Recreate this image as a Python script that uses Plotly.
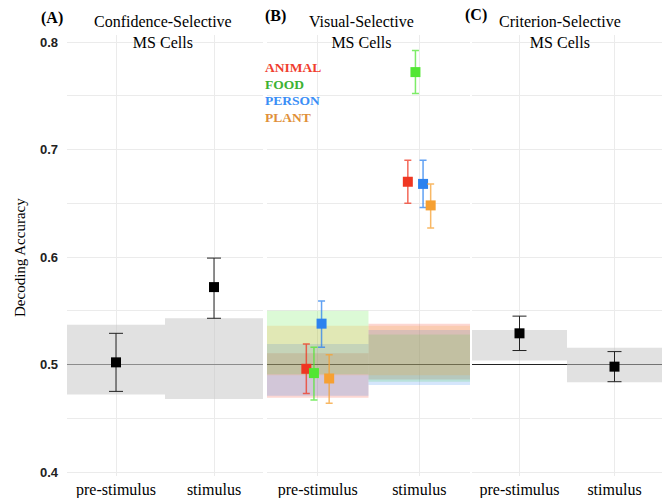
import plotly.graph_objects as go

conditions = ["pre-stimulus", "stimulus"]
y_ticks = [0.4, 0.5, 0.6, 0.7, 0.8]
y_minor = [0.45, 0.55, 0.65, 0.75]

# Panel A: Confidence-Selective
conf_mean = [0.502, 0.572]
conf_lo = [0.475, 0.543]
conf_hi = [0.529, 0.599]
conf_null_lo = [0.472, 0.468]
conf_null_hi = [0.537, 0.543]

# Panel B: Visual-Selective, by category
categories = ["ANIMAL", "FOOD", "PERSON", "PLANT"]
animal_mean = [0.496, 0.670]
animal_lo = [0.473, 0.650]
animal_hi = [0.519, 0.690]
food_mean = [0.492, 0.772]
food_lo = [0.467, 0.752]
food_hi = [0.516, 0.792]
person_mean = [0.538, 0.668]
person_lo = [0.516, 0.646]
person_hi = [0.559, 0.690]
plant_mean = [0.487, 0.648]
plant_lo = [0.464, 0.627]
plant_hi = [0.509, 0.668]

animal_null_lo = [0.469, 0.486]
animal_null_hi = [0.5105, 0.538]
food_null_lo = [0.491, 0.484]
food_null_hi = [0.550, 0.528]
person_null_lo = [0.471, 0.481]
person_null_hi = [0.519, 0.532]
plant_null_lo = [0.490, 0.490]
plant_null_hi = [0.536, 0.536]

# Panel C: Criterion-Selective
crit_mean = [0.529, 0.498]
crit_lo = [0.513, 0.484]
crit_hi = [0.545, 0.512]
crit_null_lo = [0.5037, 0.4836]
crit_null_hi = [0.532, 0.5155]

marker_colors = ["#ef3722", "#52e634", "#2c82ef", "#f6a032"]
marker_rgb = [(239, 55, 34), (82, 230, 52), (44, 130, 239), (246, 160, 50)]
legend_colors = ["#f03e2e", "#3db232", "#3a8ef6", "#e0903a"]

W, H = 664, 498
ML, MR, MT, MB = 67, 2, 35, 22
PW = W - ML - MR
PH = H - MT - MB


def px_x(p):
    return (p - ML) / PW


def px_y(p):
    return (H - MB - p) / PH


domains = [
    [px_x(67), px_x(263)],
    [px_x(267), px_x(470)],
    [px_x(472), px_x(662)],
]

fig = go.Figure()
xpos = [1, 2]
shapes = []

serif = "Liberation Serif, Times New Roman, Times, serif"

line_colors = ["#555555", "#333333", "#222222"]
for i, xa in enumerate(["x", "x2", "x3"]):
    ya = "y" if i == 0 else "y" + str(i + 1)
    shapes.append(dict(type="line", xref=xa, yref=ya, x0=0.5, x1=2.5, y0=0.5, y1=0.5,
                       line=dict(color=line_colors[i], width=1), layer="between"))


def add_bands(xa, ya, lo, hi, fill):
    for j in range(2):
        shapes.append(dict(type="rect", xref=xa, yref=ya, x0=xpos[j] - 0.5, x1=xpos[j] + 0.5,
                           y0=lo[j], y1=hi[j], fillcolor=fill, line=dict(width=0), layer="between"))


add_bands("x", "y", conf_null_lo, conf_null_hi, "rgba(195,195,195,0.5)")
b_lo = [animal_null_lo, food_null_lo, person_null_lo, plant_null_lo]
b_hi = [animal_null_hi, food_null_hi, person_null_hi, plant_null_hi]
for k in range(4):
    r, g, b = marker_rgb[k]
    add_bands("x2", "y2", b_lo[k], b_hi[k], f"rgba({r},{g},{b},0.2)")
add_bands("x3", "y3", crit_null_lo, crit_null_hi, "rgba(195,195,195,0.5)")


def black_trace(xa, ya, mean, lo, hi):
    return go.Scatter(
        x=xpos, y=mean, xaxis=xa, yaxis=ya, mode="markers",
        marker=dict(symbol="square", size=10, color="black"),
        error_y=dict(type="data", symmetric=False,
                     array=[h - m for h, m in zip(hi, mean)],
                     arrayminus=[m - l for m, l in zip(mean, lo)],
                     color="#222222", thickness=1, width=7),
        showlegend=False, hoverinfo="skip")


fig.add_trace(black_trace("x", "y", conf_mean, conf_lo, conf_hi))
fig.add_trace(black_trace("x3", "y3", crit_mean, crit_lo, crit_hi))

b_mean = [animal_mean, food_mean, person_mean, plant_mean]
b_lo_e = [animal_lo, food_lo, person_lo, plant_lo]
b_hi_e = [animal_hi, food_hi, person_hi, plant_hi]
dodge = [-0.1125, -0.0375, 0.0375, 0.1125]
for k in range(4):
    r, g, b = marker_rgb[k]
    fig.add_trace(go.Scatter(
        x=[p + dodge[k] for p in xpos], y=b_mean[k], xaxis="x2", yaxis="y2", mode="markers",
        marker=dict(symbol="square", size=10, color=marker_colors[k]),
        error_y=dict(type="data", symmetric=False,
                     array=[h - m for h, m in zip(b_hi_e[k], b_mean[k])],
                     arrayminus=[m - l for m, l in zip(b_mean[k], b_lo_e[k])],
                     color=f"rgba({r},{g},{b},0.75)", thickness=1.5, width=3.5),
        name=categories[k], showlegend=False, hoverinfo="skip"))

grid = "#ebebeb"
common_x = dict(range=[0.5, 2.5], tickvals=xpos, ticktext=conditions, showgrid=True,
                gridcolor=grid, gridwidth=1, zeroline=False, showline=False, ticks="",
                tickfont=dict(family=serif, size=16, color="black"), automargin=False,
                ticklabelstandoff=2, fixedrange=True)
common_y = dict(range=[0.4 - 4 / 1075, 0.8 + 7 / 1075], tickvals=y_ticks, showgrid=True,
                gridcolor=grid, gridwidth=1, zeroline=False, showline=False, ticks="",
                minor=dict(tickvals=y_minor, showgrid=True, gridcolor=grid, gridwidth=1),
                automargin=False, domain=[0, 1])

layout = dict(
    width=W, height=H, margin=dict(l=ML, r=MR, t=MT, b=MB),
    plot_bgcolor="white", paper_bgcolor="white", template="none",
    shapes=shapes, showlegend=False,
)
for i in range(3):
    sx = "" if i == 0 else str(i + 1)
    layout["xaxis" + sx] = dict(common_x, domain=domains[i], anchor="y" + sx)
    ya = dict(common_y, anchor="x" + sx)
    if i == 0:
        ya.update(tickfont=dict(family="Liberation Sans, Arial, sans-serif", size=13,
                                color="#222222", weight="bold"),
                  ticklabelstandoff=8, tickformat=".1f")
    else:
        ya.update(showticklabels=False)
    layout["yaxis" + sx] = ya

fig.update_layout(**layout)

annotations = []
titles = [("Confidence-Selective<br>MS Cells", 163), ("Visual-Selective<br>MS Cells", 361),
          ("Criterion-Selective<br>MS Cells", 560)]
for t, xc in titles:
    annotations.append(dict(text=t, x=px_x(xc), y=px_y(32), xref="paper", yref="paper",
                            xanchor="center", yanchor="middle", showarrow=False,
                            font=dict(family=serif, size=16, color="black")))
labels = [("(A)", 52, 18), ("(B)", 275, 16), ("(C)", 476, 15)]
for t, xc, yc in labels:
    annotations.append(dict(text="<b>" + t + "</b>", x=px_x(xc), y=px_y(yc), xref="paper", yref="paper",
                            xanchor="center", yanchor="middle", showarrow=False,
                            font=dict(family=serif, size=16, color="black")))
leg_y = [67, 84, 100, 117]
for k in range(4):
    annotations.append(dict(text="<b>" + categories[k] + "</b>", x=px_x(263), y=px_y(leg_y[k]),
                            xref="paper", yref="paper", xanchor="left", yanchor="middle",
                            showarrow=False, font=dict(family=serif, size=13.5, color=legend_colors[k])))
annotations.append(dict(text="Decoding Accuracy", x=px_x(20), y=px_y(258), xref="paper", yref="paper",
                        xanchor="center", yanchor="middle", textangle=-90, showarrow=False,
                        font=dict(family=serif, size=15, color="black")))
fig.update_layout(annotations=annotations)

fig.write_html("out.html")
